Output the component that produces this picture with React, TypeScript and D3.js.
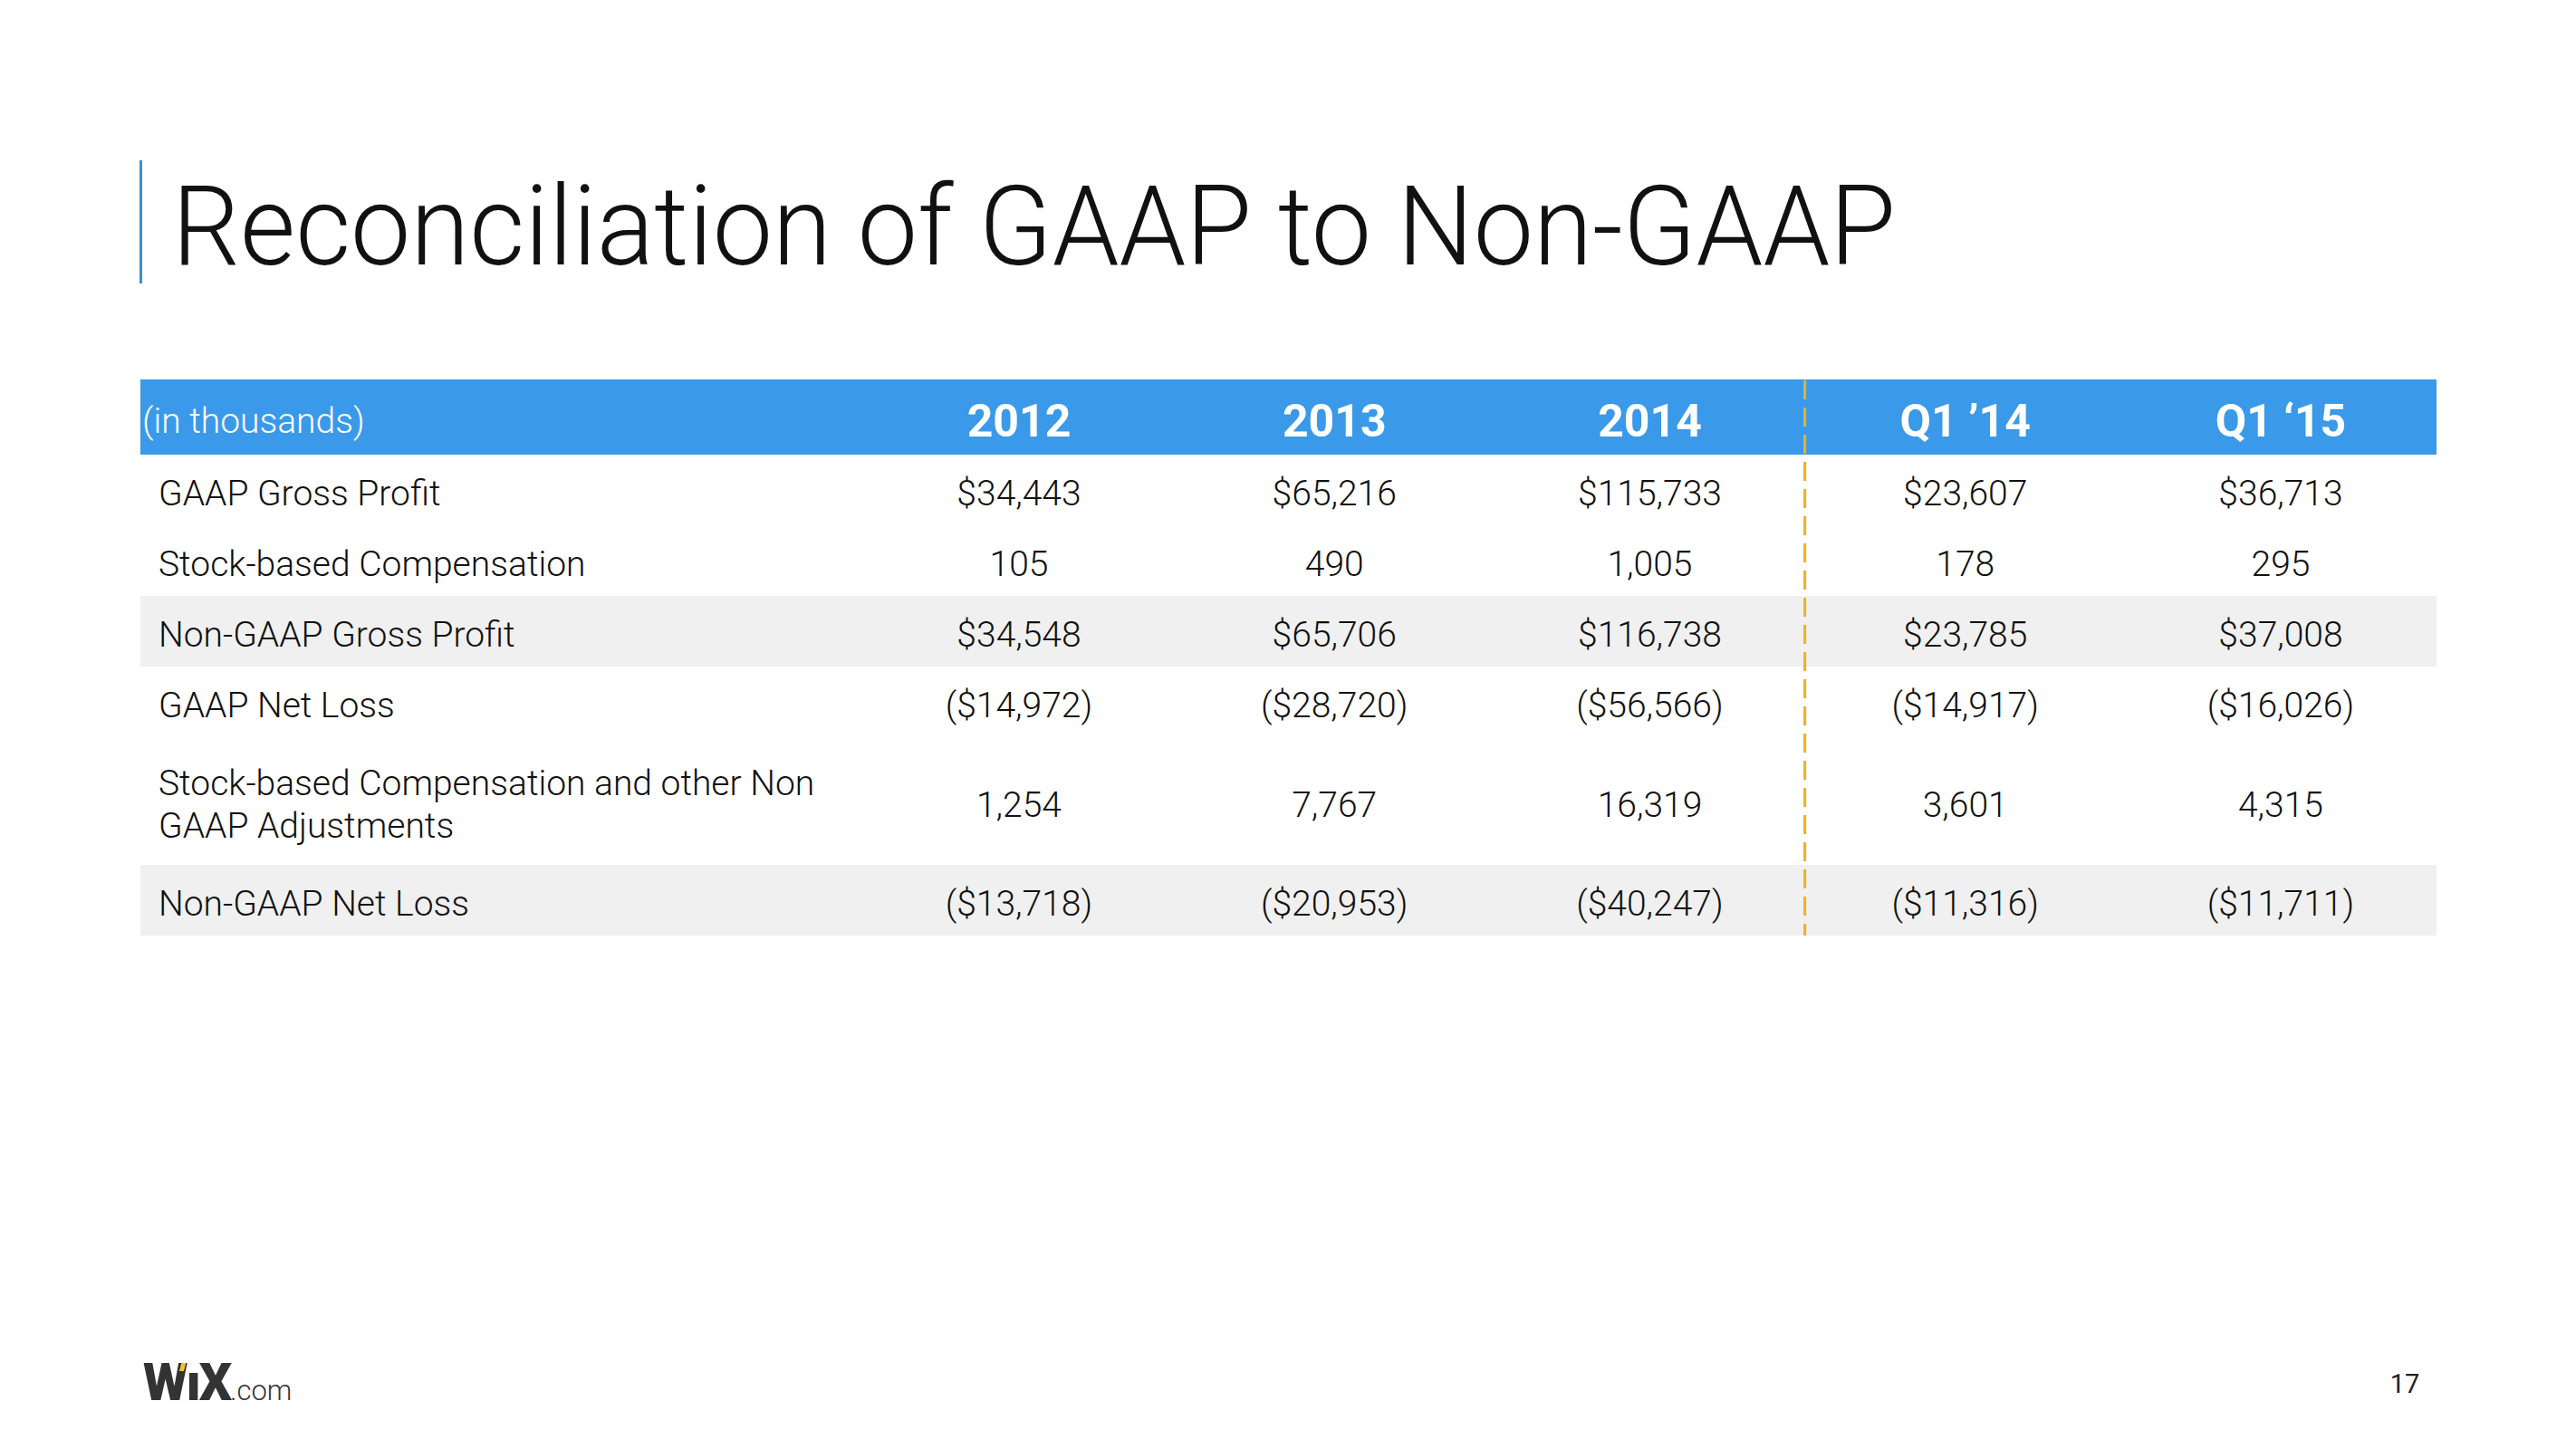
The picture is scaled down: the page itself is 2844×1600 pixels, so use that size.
import React from "react";
import * as d3 from "d3";

const title = "Reconciliation of GAAP to Non-GAAP";
const unitLabel = "(in thousands)";
const columns = ["2012", "2013", "2014", "Q1 \u201914", "Q1 \u201815"];
const rowLabels = [
  ["GAAP Gross Profit"],
  ["Stock-based Compensation"],
  ["Non-GAAP Gross Profit"],
  ["GAAP Net Loss"],
  ["Stock-based Compensation and other Non", "GAAP Adjustments"],
  ["Non-GAAP Net Loss"],
];
const rowShaded = [false, false, true, false, false, true];
const gaapGrossProfit = [34443, 65216, 115733, 23607, 36713];
const stockComp = [105, 490, 1005, 178, 295];
const nonGaapGrossProfit = [34548, 65706, 116738, 23785, 37008];
const gaapNetLoss = [-14972, -28720, -56566, -14917, -16026];
const sbcAndOther = [1254, 7767, 16319, 3601, 4315];
const nonGaapNetLoss = [-13718, -20953, -40247, -11316, -11711];
const rowFormats = ["dollar", "plain", "dollar", "dollar", "plain", "dollar"];
const seriesRows = [gaapGrossProfit, stockComp, nonGaapGrossProfit, gaapNetLoss, sbcAndOther, nonGaapNetLoss];
const pageNumber = "17";

const W = 2844;
const H = 1600;
const FONT = "Roboto, 'Liberation Sans', Arial, sans-serif";

const comma = d3.format(",");
function fmt(v: number, kind: string) {
  if (kind === "plain") return comma(v);
  if (v < 0) return `($${comma(-v)})`;
  return `$${comma(v)}`;
}

export default function App() {
  const tableLeft = 155;
  const tableRight = 2690;
  const headerTop = 419;
  const headerH = 83;
  const baseRowH = 78;
  const extraLineH = 63;
  const x = d3.scalePoint<string>().domain(columns).range([1125, 2518]);
  const dividerX = ((x(columns[2]) as number) + (x(columns[3]) as number)) / 2 - 3;

  const rowHeights = rowLabels.map((l) => baseRowH + (l.length - 1) * extraLineH);
  const rowTops: number[] = [];
  let acc = headerTop + headerH;
  rowHeights.forEach((h) => {
    rowTops.push(acc);
    acc += h;
  });
  const tableBottom = acc;
  const fs = 39;
  const dy = 17;

  return (
    <svg width={W} height={H} viewBox={`0 0 ${W} ${H}`} style={{ display: "block", position: "absolute", left: 0, top: 0, background: "#fff" }}>
      <rect x={0} y={0} width={W} height={H} fill="#ffffff" />
      {/* title */}
      <rect x={154} y={177} width={3} height={136} fill="#3a8fd9" />
      <text x={190} y={292} fontFamily={FONT} fontWeight={300} fontSize={123} fill="#111" textLength={1903} lengthAdjust="spacingAndGlyphs">
        {title}
      </text>

      {/* header */}
      <rect x={tableLeft} y={headerTop} width={tableRight - tableLeft} height={headerH} fill="#3a99e9" />
      <text x={157} y={headerTop + headerH / 2 + 17} fontFamily={FONT} fontWeight={300} fontSize={39} fill="#fff">
        {unitLabel}
      </text>
      {columns.map((c) => (
        <text key={c} x={x(c)} y={headerTop + headerH / 2 + 21} textAnchor="middle" fontFamily={FONT} fontWeight={700} fontSize={50} fill="#fff">
          {c}
        </text>
      ))}

      {/* rows */}
      {rowLabels.map((lines, i) => {
        const top = rowTops[i];
        const h = rowHeights[i];
        const cy = top + h / 2;
        const lineGap = 47;
        return (
          <g key={i}>
            {rowShaded[i] && <rect x={tableLeft} y={top} width={tableRight - tableLeft} height={h} fill="#f0f0f0" />}
            {lines.map((ln, j) => (
              <text key={j} x={175} y={cy + dy + (j - (lines.length - 1) / 2) * lineGap} fontFamily={FONT} fontWeight={300} fontSize={fs} fill="#111">
                {ln}
              </text>
            ))}
            {seriesRows[i].map((v, k) => (
              <text key={k} x={x(columns[k])} y={cy + dy} textAnchor="middle" fontFamily={FONT} fontWeight={300} fontSize={fs} fill="#111">
                {fmt(v, rowFormats[i])}
              </text>
            ))}
          </g>
        );
      })}

      {/* divider */}
      <line x1={dividerX} x2={dividerX} y1={headerTop + 1} y2={tableBottom} stroke="#f0b020" strokeWidth={3} strokeDasharray="21,9" />

      {/* footer logo */}
      <g>
        <text x={158} y={1546} fontFamily={FONT} fontWeight={900} fontSize={57} fill="#333" letterSpacing={-2}>
          W{"\u0131"}X
        </text>
        <rect x={199} y={1505} width={5} height={9} fill="#f5c518" transform="skewX(-15)" style={{ transformOrigin: "201px 1510px" }} />
        <text x={254} y={1546} fontFamily={FONT} fontWeight={300} fontSize={31} fill="#333">
          .com
        </text>
      </g>
      <text x={2655} y={1538} textAnchor="middle" fontFamily={FONT} fontWeight={400} fontSize={29} fill="#222">
        {pageNumber}
      </text>
    </svg>
  );
}
